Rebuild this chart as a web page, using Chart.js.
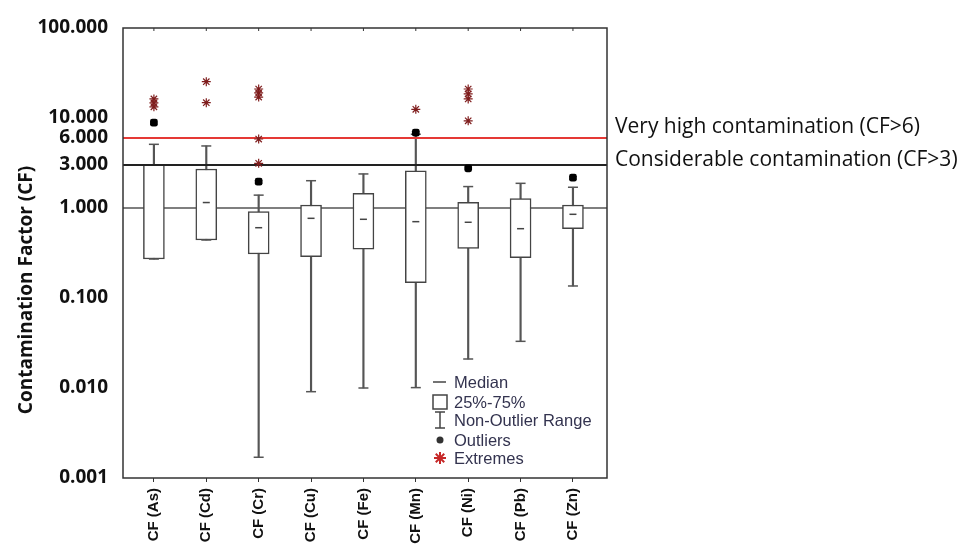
<!DOCTYPE html>
<html>
<head>
<meta charset="utf-8">
<script src="https://cdn.jsdelivr.net/npm/chart.js@4.4.1/dist/chart.umd.min.js"></script>
<style>
  html, body { margin: 0; padding: 0; background: #fff; }
  #wrap { width: 965px; height: 546px; }
</style>
</head>
<body>
<div id="wrap"><canvas id="cfChart" width="965" height="546"></canvas></div>
<script>
// categories and box statistics
const categories = ['CF (As)', 'CF (Cd)', 'CF (Cr)', 'CF (Cu)', 'CF (Fe)', 'CF (Mn)', 'CF (Ni)', 'CF (Pb)', 'CF (Zn)'];
const whiskerMin = [0.271, 0.441, 0.0017, 0.0091, 0.0100, 0.0101, 0.021, 0.033, 0.136];
const q1 = [0.271, 0.441, 0.308, 0.288, 0.348, 0.148, 0.356, 0.280, 0.589];
const median = [null, 1.15, 0.604, 0.768, 0.749, 0.705, 0.694, 0.589, 0.851];
const q3 = [3.06, 2.71, 0.91, 1.08, 1.456, 2.58, 1.157, 1.27, 1.08];
const whiskerMax = [5.1, 4.89, 1.39, 2.01, 2.39, 6.6, 1.73, 1.88, 1.70];
const outliers = [[8.88], [], [1.96], [], [], [6.86], [2.76], [], [2.17]];
const extremes = [[16.3, 14.7, 13.3], [25.3, 14.8], [21.0, 19.0, 17.1, 5.84, 3.14], [], [], [12.5], [21.0, 18.5, 16.3, 9.3], [], []];

// y axis tick labels and threshold lines
const tickVals = [100, 10, 6, 3, 1, 0.1, 0.01, 0.001];
const refLines = [1, 3, 6];
const refLabels = { 6: 'Very high contamination (CF>6)', 3: 'Considerable contamination (CF>3)' };

const xMin = -0.59, xMax = 8.65;

const idx = categories.map((c, i) => i);
const pts = (arr) => idx.filter(i => arr[i] != null).map(i => ({ x: i, y: arr[i] }));
const flat = (lists) => lists.flatMap((l, i) => l.map(v => ({ x: i, y: v })));
const hline = (v) => [{ x: xMin, y: v }, { x: xMax, y: v }];

// frame, annotations, y title and legend
const decorPlugin = {
  id: 'decor',
  afterDraw(chart) {
    const ctx = chart.ctx;
    const a = chart.chartArea;
    const ys = chart.scales.y, xs = chart.scales.x;
    ctx.save();
    // frame
    ctx.strokeStyle = '#333';
    ctx.lineWidth = 1.5;
    ctx.strokeRect(a.left, a.top, a.right - a.left, a.bottom - a.top);
    // small inward ticks on top
    ctx.lineWidth = 1;
    idx.forEach(i => {
      const px = xs.getPixelForValue(i);
      ctx.beginPath(); ctx.moveTo(px, a.top); ctx.lineTo(px, a.top + 3); ctx.stroke();
    });
    // labels to the right of the threshold lines
    ctx.fillStyle = '#111';
    ctx.font = '21px "Open Sans"';
    ctx.textAlign = 'left';
    ctx.textBaseline = 'middle';
    ctx.fillText(refLabels[6], a.right + 8, ys.getPixelForValue(6) - 11);
    ctx.fillText(refLabels[3], a.right + 8, ys.getPixelForValue(3) - 5);
    // y axis title
    ctx.save();
    ctx.translate(27, (a.top + a.bottom) / 2 + 37);
    ctx.rotate(-Math.PI / 2);
    ctx.textAlign = 'center';
    ctx.font = 'bold 19px "Open Sans"';
    ctx.fillText('Contamination Factor (CF)', 0, 0);
    ctx.restore();
    // legend
    const lx = a.left + 310, tx = a.left + 331;
    const rows = [354, 374, 392, 412, 430].map(r => a.top + r);
    ctx.strokeStyle = '#444';
    ctx.lineWidth = 1.5;
    ctx.beginPath(); ctx.moveTo(lx, rows[0]); ctx.lineTo(lx + 13, rows[0]); ctx.stroke();
    ctx.strokeRect(lx, rows[1] - 7, 14, 14);
    ctx.beginPath();
    ctx.moveTo(lx + 7, rows[2] - 8); ctx.lineTo(lx + 7, rows[2] + 8);
    ctx.moveTo(lx + 2, rows[2] - 8); ctx.lineTo(lx + 12, rows[2] - 8);
    ctx.moveTo(lx + 2, rows[2] + 8); ctx.lineTo(lx + 12, rows[2] + 8);
    ctx.stroke();
    ctx.fillStyle = '#333';
    ctx.beginPath(); ctx.arc(lx + 7, rows[3], 3.5, 0, Math.PI * 2); ctx.fill();
    ctx.strokeStyle = '#c62828';
    ctx.lineWidth = 2;
    ctx.beginPath();
    for (let k = 0; k < 4; k++) {
      const ang = k * Math.PI / 4;
      ctx.moveTo(lx + 7 - 6 * Math.cos(ang), rows[4] - 6 * Math.sin(ang));
      ctx.lineTo(lx + 7 + 6 * Math.cos(ang), rows[4] + 6 * Math.sin(ang));
    }
    ctx.stroke();
    ctx.fillStyle = '#33334f';
    ctx.font = '16.5px "Liberation Sans", Arial';
    ctx.textAlign = 'left';
    ['Median', '25%-75%', 'Non-Outlier Range', 'Outliers', 'Extremes'].forEach((t, k) => {
      ctx.fillText(t, tx, rows[k] + 1);
    });
    ctx.restore();
  }
};

const ctx = document.getElementById('cfChart').getContext('2d');
const cfChart = new Chart(ctx, {
  data: {
    datasets: [
      {
        type: 'line', data: hline(refLines[0]), borderColor: '#555', borderWidth: 1.5,
        pointRadius: 0, order: 20
      },
      {
        type: 'bar', data: idx.map(i => ({ x: i, y: [whiskerMin[i], whiskerMax[i]] })),
        backgroundColor: '#555', barThickness: 1.5, grouped: false, order: 19
      },
      {
        type: 'bar', data: idx.map(i => ({ x: i, y: [q1[i], q3[i]] })),
        backgroundColor: '#fff', borderColor: '#444', borderWidth: 1.5, borderSkipped: false,
        barThickness: 21, grouped: false, order: 18
      },
      {
        type: 'scatter', data: pts(whiskerMax).concat(pts(whiskerMin)),
        pointStyle: 'line', pointRadius: 5, borderColor: '#555', borderWidth: 1.5, order: 10
      },
      {
        type: 'scatter', data: pts(median),
        pointStyle: 'line', pointRadius: 3.5, borderColor: '#444', borderWidth: 1.5, order: 9
      },
      {
        type: 'line', data: hline(refLines[1]), borderColor: '#222', borderWidth: 2,
        pointRadius: 0, order: 8
      },
      {
        type: 'line', data: hline(refLines[2]), borderColor: '#e53935', borderWidth: 2,
        pointRadius: 0, order: 7
      },
      {
        type: 'scatter', data: flat(outliers),
        pointStyle: 'rectRounded', pointRadius: 4.5, backgroundColor: '#000', borderColor: '#000',
        borderWidth: 0, order: 2
      },
      {
        type: 'scatter', data: flat(extremes),
        pointStyle: 'star', pointRadius: 4.5, borderColor: '#7f1d1d', borderWidth: 1.2, order: 1
      }
    ]
  },
  options: {
    responsive: false,
    animation: false,
    layout: { padding: { left: 0, right: 358, top: 28, bottom: 0 } },
    plugins: { legend: { display: false }, tooltip: { enabled: false } },
    scales: {
      x: {
        type: 'linear', min: xMin, max: xMax, offset: false,
        afterBuildTicks: (scale) => { scale.ticks = idx.map(i => ({ value: i })); },
        afterFit: (scale) => { scale.height = 68; },
        grid: { display: true, offset: false, drawOnChartArea: false, drawTicks: true, tickLength: 4, color: '#333' },
        border: { display: false },
        ticks: {
          autoSkip: false, minRotation: 90, maxRotation: 90, padding: 6,
          color: '#111', font: { family: '"Liberation Sans", Arial', size: 15, weight: 'bold' },
          callback: (v) => categories[v]
        }
      },
      y: {
        type: 'logarithmic', min: 0.001, max: 100,
        afterBuildTicks: (scale) => { scale.ticks = tickVals.map(v => ({ value: v })); },
        afterFit: (scale) => { scale.width = 123; },
        grid: { display: false, drawTicks: false },
        border: { display: false },
        ticks: {
          padding: 15, color: '#111',
          font: { family: '"Open Sans"', size: 19, weight: 'bold' },
          callback: (v) => Number(v).toFixed(3)
        }
      }
    }
  },
  plugins: [decorPlugin]
});
</script>
</body>
</html>
